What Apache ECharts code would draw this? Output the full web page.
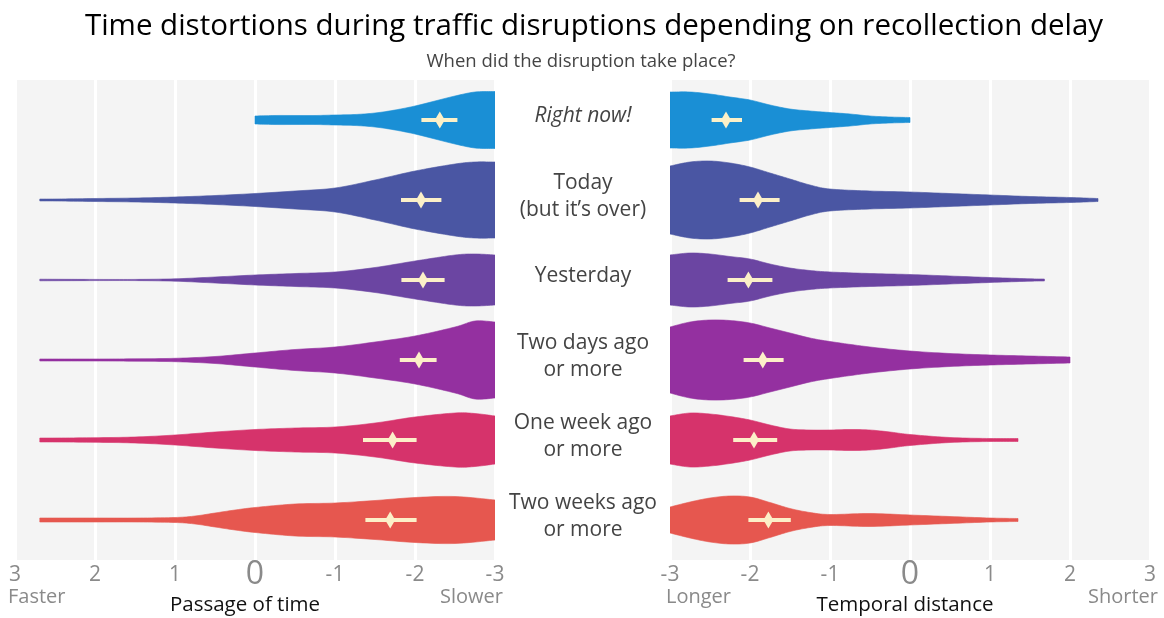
<!DOCTYPE html>
<html>
<head>
<meta charset="utf-8">
<script src="https://cdn.jsdelivr.net/npm/echarts@6/dist/echarts.min.js"></script>
<style>
html,body{margin:0;padding:0;background:#fff;}
#chart{width:1164px;height:618px;}
</style>
</head>
<body>
<div id="chart"></div>
<script>
// ---------- DATA ----------
const categories = ['Right now!', 'Today\n(but it’s over)', 'Yesterday', 'Two days ago\nor more', 'One week ago\nor more', 'Two weeks ago\nor more'];
const violinColors = ['#1a8fd5', '#4a56a3', '#6b45a2', '#9430a0', '#d6336b', '#e6574f'];

// Passage of time: density profile (x positions and relative half-widths)
const passageX = [
  [0, -0.25, -0.5, -0.75, -1, -1.25, -1.5, -1.75, -2, -2.25, -2.5, -2.75, -3],
  [2.69, 2.5, 2, 1.5, 1, 0.5, 0, -0.5, -1, -1.5, -2, -2.5, -2.75, -3],
  [2.69, 2, 1.5, 1, 0.5, 0, -0.5, -1, -1.5, -2, -2.5, -2.75, -3],
  [2.69, 2, 1.5, 1, 0.5, 0, -0.5, -1, -1.5, -2, -2.5, -2.75, -3],
  [2.69, 2.5, 2, 1.5, 1, 0.5, 0, -0.5, -1, -1.5, -2, -2.5, -2.75, -3],
  [2.69, 2, 1.5, 1, 0.75, 0.5, 0.25, 0, -0.5, -1, -1.5, -2, -2.5, -3]
];
const passageDensity = [
  [4, 4.5, 4.5, 4.5, 5, 5.5, 7, 10, 14, 19, 24, 28, 28.5],
  [1, 1, 1.5, 2, 3, 4.5, 6.5, 9, 12, 20, 29, 36, 38, 38],
  [0.8, 0.6, 0.6, 1.2, 3, 5, 6.5, 8, 12.5, 19, 25, 26, 25],
  [1, 1, 1.2, 1.7, 3.5, 7, 10.5, 13, 18, 24, 33, 39, 38],
  [2, 2, 2.3, 3, 5, 8, 10.5, 12, 13, 17, 23, 27, 26.5, 24],
  [2, 2, 2, 2.5, 4, 7, 10, 12.5, 16, 17, 19.5, 22.5, 23.5, 20]
];
const passageMean = [-2.31, -2.075, -2.10, -2.05, -1.72, -1.69];
const passageLow  = [-2.08, -1.825, -1.83, -1.81, -1.35, -1.38];
const passageHigh = [-2.53, -2.33, -2.37, -2.27, -2.02, -2.02];

// Temporal distance
const distanceX = [
  [-3, -2.75, -2.5, -2.25, -2, -1.75, -1.5, -1.25, -1, -0.75, -0.5, -0.25, 0],
  [-3, -2.75, -2.5, -2.25, -2, -1.75, -1.5, -1.25, -1, -0.5, 0, 0.5, 1, 1.5, 2, 2.35],
  [-3, -2.75, -2.5, -2.25, -2, -1.75, -1.5, -1.25, -1, -0.5, 0, 0.5, 1, 1.5, 1.68],
  [-3, -2.75, -2.5, -2.25, -2, -1.75, -1.5, -1.25, -1, -0.5, 0, 0.5, 1, 1.5, 2],
  [-3, -2.75, -2.5, -2.25, -2, -1.75, -1.5, -1.25, -1, -0.75, -0.5, -0.25, 0, 0.5, 1, 1.35],
  [-3, -2.75, -2.5, -2.25, -2, -1.75, -1.5, -1.25, -1, -0.5, 0, 0.5, 1, 1.35]
];
const distanceDensity = [
  [28, 28, 26, 23, 20, 15, 11, 9, 7.5, 6, 4, 3, 2.5],
  [34, 38, 39, 37, 33, 27, 21, 15, 11, 9, 8, 6.5, 5, 3.5, 2.5, 1.5],
  [25, 27, 26, 23.5, 21, 16, 12, 9.5, 8, 6.5, 5.5, 4, 2.5, 1.2, 1],
  [33, 38, 40, 39.5, 37, 32, 27, 22, 18.5, 13, 9, 6.5, 5, 4, 3],
  [24, 27, 26, 23.5, 20, 15, 11, 10, 10, 10.5, 10, 8, 5.5, 2.5, 1.5, 1.5],
  [13, 18, 22, 24, 23, 17.5, 11.5, 7.5, 5.5, 6.5, 5, 3.5, 2, 1.5]
];
const distanceMean = [-2.30, -1.90, -2.02, -1.84, -1.95, -1.77];
const distanceLow  = [-2.48, -2.13, -2.28, -2.08, -2.21, -2.02];
const distanceHigh = [-2.10, -1.63, -1.72, -1.58, -1.66, -1.49];

// ---------- RENDERING ----------
const FONT = '"Open Sans", "Noto Sans", sans-serif';
const CREAM = '#fcf0c8';

function catmull(pts, steps) {
  const out = [];
  const n = pts.length;
  for (let i = 0; i < n - 1; i++) {
    const p0 = pts[i - 1] || pts[i], p1 = pts[i], p2 = pts[i + 1], p3 = pts[i + 2] || pts[i + 1];
    for (let s = 0; s < steps; s++) {
      const t = s / steps, t2 = t * t, t3 = t2 * t;
      const pt = [0, 1].map(d => 0.5 * ((2 * p1[d]) + (-p0[d] + p2[d]) * t +
        (2 * p0[d] - 5 * p1[d] + 4 * p2[d] - p3[d]) * t2 +
        (-p0[d] + 3 * p1[d] - 3 * p2[d] + p3[d]) * t3));
      pt[1] = Math.max(pt[1], 0.3);
      out.push(pt);
    }
  }
  out.push(pts[n - 1]);
  return out;
}

function violinRenderer(xsArr, wsArr) {
  return function (params, api) {
    const i = params.dataIndex;
    const band = api.size([0, 1])[1];
    const k = band / 80;
    const cy = api.coord([0, i])[1];
    const raw = xsArr[i].map((x, j) => [api.coord([x, i])[0], wsArr[i][j] * k]);
    const pts = catmull(raw, 10);
    const top = pts.map(p => [p[0], cy - p[1]]);
    const bot = pts.map(p => [p[0], cy + p[1]]).reverse();
    return {
      type: 'polygon',
      shape: { points: top.concat(bot) },
      style: { fill: violinColors[i], stroke: violinColors[i], lineWidth: 0.6 }
    };
  };
}

function meanRenderer(mean, lo, hi) {
  return function (params, api) {
    const i = params.dataIndex;
    const m = api.coord([mean[i], i]);
    const a = api.coord([lo[i], i]);
    const b = api.coord([hi[i], i]);
    return {
      type: 'group',
      children: [
        { type: 'line', shape: { x1: a[0], y1: a[1], x2: b[0], y2: b[1] }, style: { stroke: CREAM, lineWidth: 4, lineCap: 'butt' } },
        { type: 'polygon', shape: { points: [[m[0], m[1] - 8.5], [m[0] + 5, m[1]], [m[0], m[1] + 8.5], [m[0] - 5, m[1]]] }, style: { fill: CREAM } }
      ]
    };
  };
}

const rowData = categories.map((c, i) => [0, i]);

function xAxisFor(gridIndex, inverse) {
  return {
    type: 'value', gridIndex, min: -3, max: 3, interval: 1, inverse,
    axisLine: { show: false }, axisTick: { show: false },
    splitLine: { show: true, lineStyle: { color: '#ffffff', width: 3 } },
    axisLabel: {
      show: true, margin: 0, showMinLabel: true, showMaxLabel: true,
      formatter: v => (v === 0 ? '{z|0}' : '{n|' + v + '}'),
      rich: {
        z: { fontSize: 32, lineHeight: 30, color: '#8a8a8a', fontFamily: FONT },
        n: { fontSize: 21, lineHeight: 30, color: '#8a8a8a', fontFamily: FONT }
      }
    }
  };
}

const chart = echarts.init(document.getElementById('chart'), null, { renderer: 'canvas' });
chart.setOption({
  animation: false,
  backgroundColor: '#ffffff',
  grid: [
    { left: 15, top: 80, width: 480, height: 480, show: true, backgroundColor: '#f4f4f4', borderWidth: 0 },
    { left: 670, top: 80, width: 480, height: 480, show: true, backgroundColor: '#f4f4f4', borderWidth: 0 }
  ],
  xAxis: [xAxisFor(0, true), xAxisFor(1, false)],
  yAxis: [
    {
      type: 'category', gridIndex: 0, data: categories, inverse: true, position: 'right',
      axisLine: { show: false }, axisTick: { show: false }, splitLine: { show: false },
      axisLabel: {
        show: true, align: 'center', margin: 88, color: '#444', fontSize: 21, lineHeight: 27, fontFamily: FONT,
        padding: [0, 0, 7, 0],
        formatter: (v, idx) => (idx === 0 ? '{it|' + v + '}' : v),
        rich: { it: { fontStyle: 'italic', fontSize: 21, color: '#444', fontFamily: FONT } }
      }
    },
    {
      type: 'category', gridIndex: 1, data: categories, inverse: true,
      axisLine: { show: false }, axisTick: { show: false }, splitLine: { show: false }, axisLabel: { show: false }
    }
  ],
  series: [
    { type: 'custom', name: 'Passage of time', xAxisIndex: 0, yAxisIndex: 0, clip: true, data: rowData,
      encode: { x: 0, y: 1 }, renderItem: violinRenderer(passageX, passageDensity) },
    { type: 'custom', name: 'Temporal distance', xAxisIndex: 1, yAxisIndex: 1, clip: true, data: rowData,
      encode: { x: 0, y: 1 }, renderItem: violinRenderer(distanceX, distanceDensity) },
    { type: 'custom', name: 'Passage mean', xAxisIndex: 0, yAxisIndex: 0, z: 5, data: rowData,
      encode: { x: 0, y: 1 }, renderItem: meanRenderer(passageMean, passageLow, passageHigh) },
    { type: 'custom', name: 'Distance mean', xAxisIndex: 1, yAxisIndex: 1, z: 5, data: rowData,
      encode: { x: 0, y: 1 }, renderItem: meanRenderer(distanceMean, distanceLow, distanceHigh) }
  ],
  graphic: [
    { type: 'text', x: 594, y: 27, style: { text: 'Time distortions during traffic disruptions depending on recollection delay', align: 'center', verticalAlign: 'middle', fontSize: 29.5, fontFamily: FONT, fill: '#000' } },
    { type: 'text', x: 581, y: 62, style: { text: 'When did the disruption take place?', align: 'center', verticalAlign: 'middle', fontSize: 18.5, fontFamily: FONT, fill: '#444' } },
    { type: 'text', x: 8, y: 597, style: { text: 'Faster', align: 'left', verticalAlign: 'middle', fontSize: 20, fontFamily: FONT, fill: '#8a8a8a' } },
    { type: 'text', x: 503, y: 597, style: { text: 'Slower', align: 'right', verticalAlign: 'middle', fontSize: 20, fontFamily: FONT, fill: '#8a8a8a' } },
    { type: 'text', x: 245, y: 605, style: { text: 'Passage of time', align: 'center', verticalAlign: 'middle', fontSize: 20.5, fontFamily: FONT, fill: '#111' } },
    { type: 'text', x: 666, y: 597, style: { text: 'Longer', align: 'left', verticalAlign: 'middle', fontSize: 20, fontFamily: FONT, fill: '#8a8a8a' } },
    { type: 'text', x: 1158, y: 597, style: { text: 'Shorter', align: 'right', verticalAlign: 'middle', fontSize: 20, fontFamily: FONT, fill: '#8a8a8a' } },
    { type: 'text', x: 905, y: 605, style: { text: 'Temporal distance', align: 'center', verticalAlign: 'middle', fontSize: 20.5, fontFamily: FONT, fill: '#111' } }
  ]
});
</script>
</body>
</html>
